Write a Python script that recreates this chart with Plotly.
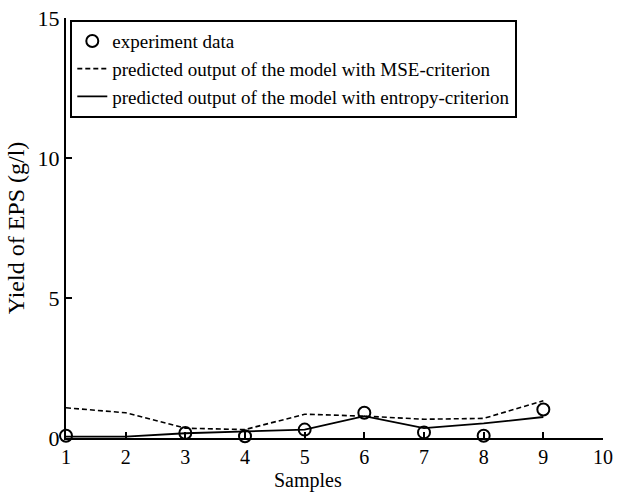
import plotly.graph_objects as go

samples = [1, 2, 3, 4, 5, 6, 7, 8, 9]
experiment = [0.08, -0.05, 0.18, 0.06, 0.3, 0.9, 0.2, 0.08, 1.02]
mse_pred = [1.08, 0.9, 0.35, 0.3, 0.85, 0.78, 0.67, 0.7, 1.33]
entropy_pred = [0.05, 0.05, 0.17, 0.23, 0.3, 0.78, 0.35, 0.52, 0.75]

font_family = "Liberation Serif"
bottom_margin = 57
plot_height = 495 - 18 - bottom_margin

fig = go.Figure()
fig.add_trace(go.Scatter(
    x=samples, y=experiment, mode="markers", name="experiment data",
    marker=dict(symbol="circle-open", size=12, color="black", line=dict(width=2)),
    cliponaxis=False))
fig.add_trace(go.Scatter(
    x=samples, y=mse_pred, mode="lines",
    name="predicted output of the model with MSE-criterion",
    line=dict(color="black", width=1.6, dash="5px,3px"), cliponaxis=False))
fig.add_trace(go.Scatter(
    x=samples, y=entropy_pred, mode="lines",
    name="predicted output of the model with entropy-criterion",
    line=dict(color="black", width=1.8), cliponaxis=False))

fig.update_layout(
    width=618, height=495,
    margin=dict(l=66, r=15, t=18, b=bottom_margin),
    paper_bgcolor="white", plot_bgcolor="white",
    font=dict(family=font_family, color="black", size=21),
    showlegend=True,
    legend=dict(
        x=0.008, y=0.995, xanchor="left", yanchor="top",
        bordercolor="black", borderwidth=2, bgcolor="white",
        font=dict(family=font_family, size=19, color="black"),
        tracegroupgap=0, itemwidth=30),
    xaxis=dict(
        range=[1, 10], tickmode="array", tickvals=list(range(1, 11)),
        ticks="inside", ticklen=6, tickwidth=1.5, tickcolor="black",
        showline=True, linecolor="black", linewidth=2, showgrid=False, zeroline=False,
        automargin=False,
        tickfont=dict(size=20)),
    yaxis=dict(
        range=[0, 15], tickmode="array", tickvals=[0, 5, 10, 15],
        ticks="inside", ticklen=6, tickwidth=1.5, tickcolor="black",
        showline=True, linecolor="black", linewidth=2, showgrid=False, zeroline=False,
        automargin=False,
        title=dict(text="Yield of EPS (g/l)", font=dict(size=24), standoff=6),
        tickfont=dict(size=22)),
    annotations=[dict(
        text="Samples", xref="paper", yref="paper", x=0.45,
        y=-(bottom_margin - 1) / plot_height,
        xanchor="center", yanchor="bottom", showarrow=False,
        font=dict(family=font_family, size=20, color="black"))],
)

fig.write_html("out.html")
